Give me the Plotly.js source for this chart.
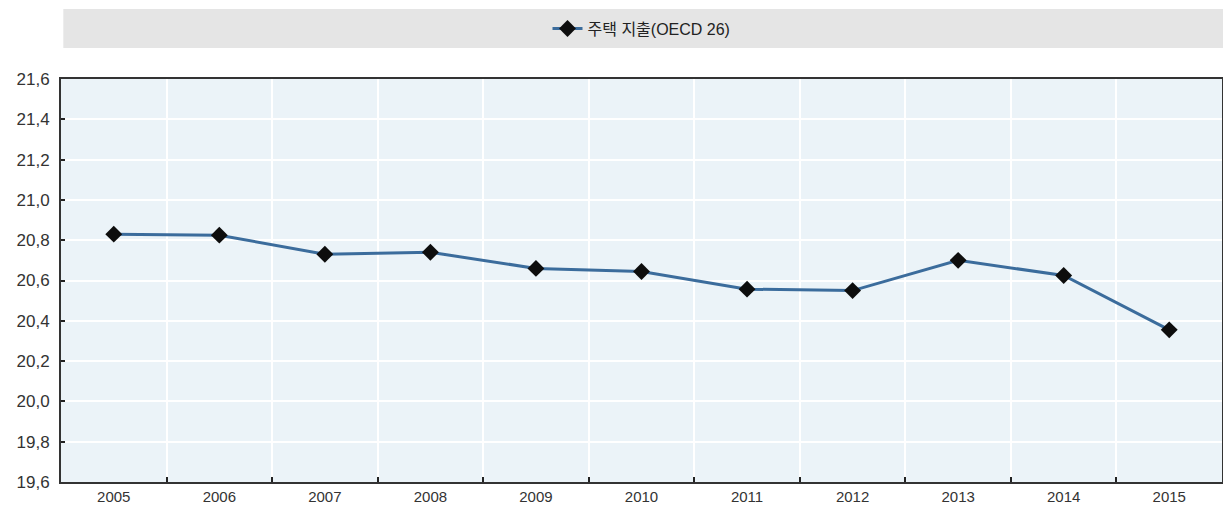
<!DOCTYPE html>
<html>
<head>
<meta charset="utf-8">
<script src="https://cdn.plot.ly/plotly-3.0.1.min.js"></script>
<style>
  html, body { margin: 0; padding: 0; background: #ffffff; }
  #chart { width: 1223px; height: 506px; }
</style>
</head>
<body>
<div id="chart"></div>
<script>
// Housing expenditure, OECD 26 average
const years = ['2005', '2006', '2007', '2008', '2009', '2010', '2011', '2012', '2013', '2014', '2015'];
const housingSpending = [20.83, 20.825, 20.73, 20.74, 20.66, 20.645, 20.557, 20.55, 20.70, 20.625, 20.355];
const seriesName = '주택 지출(OECD 26)';
const yTicks = [19.6, 19.8, 20.0, 20.2, 20.4, 20.6, 20.8, 21.0, 21.2, 21.4, 21.6];

const font = 'Liberation Sans, Arial, Noto Sans CJK KR, sans-serif';

const trace = {
  x: years,
  y: housingSpending,
  name: seriesName,
  type: 'scatter',
  mode: 'lines+markers',
  line: { color: '#3b6c9c', width: 3 },
  marker: { symbol: 'diamond', size: 13, color: '#0d0d0d' },
  showlegend: true
};

const layout = {
  width: 1223,
  height: 506,
  margin: { l: 61, r: 1, t: 79, b: 24, pad: 0 },
  paper_bgcolor: '#ffffff',
  plot_bgcolor: '#ebf3f8',
  separators: ', ',
  font: { family: font, size: 16, color: '#333333' },
  showlegend: true,
  legend: {
    orientation: 'h',
    x: 0.5, xanchor: 'center',
    y: 1.125, yanchor: 'middle',
    bgcolor: 'rgba(0,0,0,0)',
    font: { family: font, size: 16, color: '#222222' }
  },
  shapes: [{
    type: 'rect', xref: 'paper', yref: 'paper',
    x0: 0.002, x1: 1.001, y0: 1.077, y1: 1.174,
    fillcolor: '#e5e5e5', line: { width: 0 }, layer: 'below'
  }],
  xaxis: {
    type: 'category',
    range: [-0.5, 10.5],
    tickson: 'boundaries',
    ticks: 'inside',
    ticklen: 5,
    tickcolor: '#222222',
    tickwidth: 2,
    showgrid: true,
    gridcolor: '#ffffff',
    gridwidth: 2,
    showline: true,
    linecolor: '#333333',
    linewidth: 2,
    mirror: true,
    fixedrange: true,
    ticklabelstandoff: 0,
    tickfont: { family: font, size: 15, color: '#333333' }
  },
  yaxis: {
    range: [19.6, 21.6],
    tickvals: yTicks,
    tickformat: '.1f',
    ticks: 'inside',
    ticklen: 4,
    tickcolor: '#222222',
    tickwidth: 2,
    showgrid: true,
    gridcolor: '#ffffff',
    gridwidth: 2,
    zeroline: false,
    showline: true,
    linecolor: '#333333',
    linewidth: 2,
    mirror: true,
    ticklabelstandoff: 6,
    fixedrange: true,
    tickfont: { family: font, size: 17, color: '#333333' }
  }
};

Plotly.newPlot('chart', [trace], layout, { displayModeBar: false, staticPlot: true });
</script>
</body>
</html>
